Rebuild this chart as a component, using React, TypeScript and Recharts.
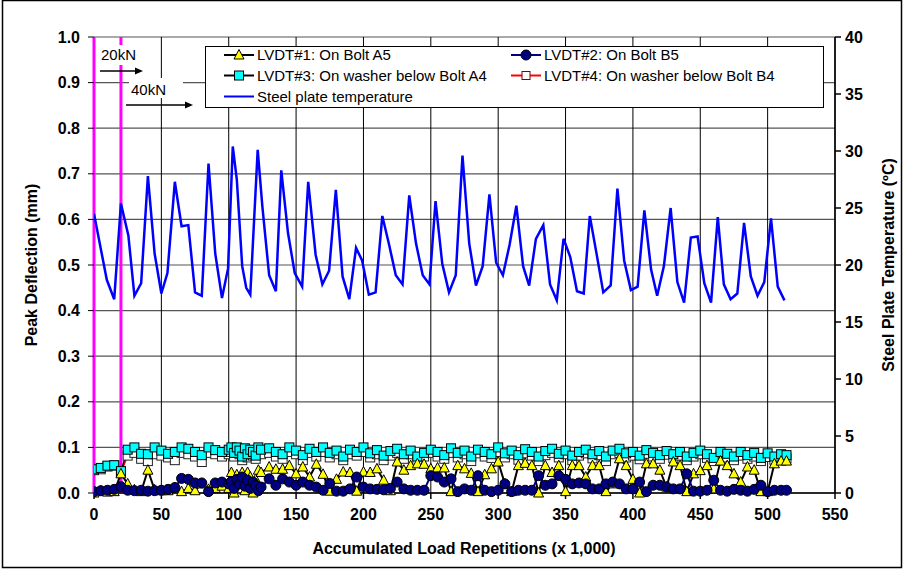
import React from "react";
import { LineChart, Line, XAxis, YAxis, CartesianGrid, ReferenceLine } from "recharts";

// LVDT readings, x in thousands of load repetitions
const lvdtReps = [
  0, 5, 10, 15, 20, 25, 30, 35, 40, 45,
  50, 55, 60, 65, 70, 75, 80, 85, 90, 95,
  100, 102, 104, 106, 108, 110, 112, 114, 116, 118,
  120, 122, 124, 130, 135, 140, 145, 150, 155, 160,
  165, 170, 175, 180, 185, 190, 195, 200, 205, 210,
  215, 220, 225, 230, 235, 240, 245, 250, 255, 260,
  265, 270, 275, 280, 285, 290, 295, 300, 305, 310,
  315, 320, 325, 330, 335, 340, 345, 350, 355, 360,
  365, 370, 375, 380, 385, 390, 395, 400, 405, 410,
  415, 420, 425, 430, 435, 440, 445, 450, 455, 460,
  465, 470, 475, 480, 485, 490, 495, 500, 505, 510,
  514,
];

const lvdt1 = [
  0.0, 0.005, 0.002, 0.003, 0.042, 0.02, 0.007, 0.003, 0.05, 0.007,
  0.005, 0.005, 0.012, 0.003, 0.01, 0.005, 0.02, 0.008, 0.01, 0.015,
  0.01, 0.045, 0.0, 0.04, 0.02, 0.045, 0.005, 0.045, 0.035, 0.0,
  0.03, 0.05, 0.045, 0.057, 0.052, 0.052, 0.06, 0.042, 0.057, 0.035,
  0.063, 0.041, 0.004, 0.03, 0.046, 0.045, 0.004, 0.046, 0.045, 0.053,
  0.028, 0.005, 0.068, 0.05, 0.06, 0.064, 0.063, 0.053, 0.055, 0.055,
  0.003, 0.06, 0.053, 0.043, 0.003, 0.04, 0.053, 0.068, 0.02, 0.003,
  0.06, 0.065, 0.06, 0.0, 0.06, 0.045, 0.06, 0.003, 0.06, 0.06,
  0.035, 0.06, 0.06, 0.003, 0.02, 0.075, 0.06, 0.03, 0.0, 0.064,
  0.064, 0.05, 0.013, 0.068, 0.06, 0.003, 0.042, 0.049, 0.06, 0.009,
  0.07, 0.06, 0.042, 0.024, 0.057, 0.05, 0.003, 0.003, 0.064, 0.07,
  0.07,
];

const lvdt2 = [
  0.003, 0.005, 0.006, 0.008, 0.014, 0.006, 0.005, 0.006, 0.004, 0.005,
  0.006, 0.008, 0.012, 0.032, 0.03, 0.022, 0.022, 0.003, 0.022, 0.024,
  0.02, 0.025, 0.01, 0.03, 0.02, 0.035, 0.015, 0.028, 0.01, 0.024,
  0.017, 0.005, 0.013, 0.031, 0.017, 0.031, 0.024, 0.017, 0.024, 0.017,
  0.013, 0.006, 0.021, 0.004, 0.004, 0.009, 0.035, 0.013, 0.009, 0.008,
  0.007, 0.01, 0.024, 0.009, 0.006, 0.006, 0.006, 0.038, 0.035, 0.024,
  0.031, 0.003, 0.009, 0.006, 0.038, 0.006, 0.003, 0.006, 0.02, 0.003,
  0.006, 0.006, 0.006, 0.038, 0.017, 0.02, 0.038, 0.03, 0.02, 0.022,
  0.02, 0.009, 0.009, 0.02, 0.024, 0.02, 0.009, 0.009, 0.024, 0.003,
  0.017, 0.017, 0.013, 0.009, 0.009, 0.042, 0.004, 0.004, 0.006, 0.028,
  0.006, 0.004, 0.008, 0.006, 0.004, 0.008, 0.017, 0.003, 0.006, 0.006,
  0.006,
];

const lvdt3 = [
  0.052, 0.055, 0.06, 0.061, 0.048, 0.095, 0.1, 0.086, 0.085, 0.1,
  0.093, 0.086, 0.09, 0.1, 0.097, 0.09, 0.083, 0.1, 0.094, 0.09,
  0.095, 0.1, 0.088, 0.1, 0.093, 0.08, 0.098, 0.085, 0.095, 0.09,
  0.082, 0.1, 0.095, 0.098, 0.09, 0.085, 0.1, 0.093, 0.083, 0.097,
  0.09, 0.1, 0.088, 0.093, 0.08, 0.095, 0.09, 0.1, 0.087, 0.094,
  0.082, 0.092, 0.097, 0.085, 0.093, 0.08, 0.088, 0.095, 0.09, 0.083,
  0.098, 0.088, 0.093, 0.08, 0.095, 0.09, 0.085, 0.1, 0.087, 0.093,
  0.083, 0.096, 0.09, 0.08, 0.092, 0.097, 0.086, 0.093, 0.082, 0.09,
  0.095, 0.085, 0.092, 0.08, 0.093, 0.097, 0.087, 0.09, 0.082, 0.094,
  0.088, 0.083, 0.092, 0.085, 0.09, 0.08, 0.088, 0.093, 0.085, 0.077,
  0.09, 0.086, 0.08, 0.09, 0.083, 0.088, 0.077, 0.087, 0.08, 0.085,
  0.083,
];

const lvdt4 = [
  0.05, 0.052, 0.058, 0.06, 0.045, 0.082, 0.088, 0.075, 0.07, 0.085,
  0.082, 0.078, 0.072, 0.088, 0.085, 0.08, 0.068, 0.088, 0.085, 0.08,
  0.085, 0.09, 0.08, 0.088, 0.085, 0.072, 0.088, 0.078, 0.085, 0.082,
  0.075, 0.09, 0.085, 0.088, 0.08, 0.075, 0.09, 0.085, 0.072, 0.088,
  0.08, 0.09, 0.078, 0.085, 0.072, 0.085, 0.082, 0.09, 0.078, 0.085,
  0.072, 0.082, 0.088, 0.075, 0.085, 0.07, 0.08, 0.088, 0.08, 0.075,
  0.088, 0.078, 0.085, 0.07, 0.087, 0.08, 0.077, 0.09, 0.078, 0.085,
  0.073, 0.087, 0.082, 0.07, 0.083, 0.088, 0.078, 0.085, 0.072, 0.082,
  0.087, 0.076, 0.083, 0.07, 0.085, 0.088, 0.078, 0.082, 0.074, 0.086,
  0.08, 0.075, 0.084, 0.077, 0.082, 0.072, 0.08, 0.085, 0.077, 0.07,
  0.082, 0.078, 0.072, 0.082, 0.075, 0.08, 0.07, 0.079, 0.073, 0.078,
  0.076,
];

// steel plate temperature (ºC)
const tempReps = [
  0, 9.5, 15, 20, 25.5, 30, 35, 40, 45, 50,
  54.5, 60, 65, 70, 75, 80, 85, 90, 95, 99.5,
  103, 106, 110, 113, 116, 121.5, 125, 130, 135, 139,
  144, 149, 154.5, 159, 164.5, 169.5, 174.5, 179.5, 184.5, 189.5,
  194.5, 199, 204, 209, 214, 219, 224, 229, 234, 239,
  244, 249, 253.5, 258.5, 263.5, 268.5, 273.5, 278.5, 283.5, 288.5,
  293.5, 298.5, 303.5, 308.5, 313.5, 318.5, 323, 328, 333.5, 338.5,
  343.5, 348.5, 353.5, 358.5, 363.5, 368, 373, 378, 383.5, 388.5,
  393.5, 398.5, 403.5, 408.5, 413.5, 418, 423, 428, 433, 438,
  443, 448, 453, 458, 463, 467.5, 472.5, 477.5, 482.5, 487.5,
  492.5, 497.5, 502.5, 507.5, 512.5,
];

const plateTemp = [
  24.5, 18.7, 17.0, 25.4, 22.6, 17.3, 18.4, 27.8, 21.0, 17.5,
  19.3, 27.3, 23.4, 23.5, 17.6, 17.3, 28.9, 21.0, 17.1, 19.7,
  30.4, 27.5, 19.9, 18.0, 17.4, 30.1, 25.1, 19.1, 17.7, 28.3,
  22.8, 19.3, 18.1, 27.3, 20.9, 18.3, 19.5, 26.6, 19.0, 17.0,
  21.5, 20.4, 17.4, 17.6, 24.3, 21.8, 19.1, 18.3, 26.1, 21.9,
  19.1, 18.3, 25.6, 20.1, 17.6, 19.1, 29.6, 21.9, 18.2, 19.9,
  26.2, 20.2, 19.1, 21.8, 25.2, 19.9, 18.2, 22.3, 23.5, 18.3,
  16.9, 22.3, 20.7, 17.7, 17.5, 24.3, 21.0, 17.6, 18.2, 26.7,
  20.4, 17.8, 18.1, 24.8, 19.6, 17.3, 19.9, 25.0, 18.5, 16.7,
  22.4, 22.5, 18.4, 16.7, 24.2, 18.3, 17.0, 17.5, 23.7, 19.0,
  17.3, 18.5, 24.1, 18.1, 16.9,
];

const xTicks = [0, 50, 100, 150, 200, 250, 300, 350, 400, 450, 500, 550];
const leftTicks = [0, 0.1, 0.2, 0.3, 0.4, 0.5, 0.6, 0.7, 0.8, 0.9, 1.0];
const rightTicks = [0, 5, 10, 15, 20, 25, 30, 35, 40];
const loadSteps = [0, 20]; // 20kN from 0, 40kN from 20k

const lvdtRows = lvdtReps.map((x, i) => ({ x, l1: lvdt1[i], l2: lvdt2[i], l3: lvdt3[i], l4: lvdt4[i] }));
const tempRows = tempReps.map((x, i) => ({ x, t: plateTemp[i] }));

const FONT = "'Liberation Sans', Arial, sans-serif";
const tickStyle = { fontFamily: FONT, fontSize: 16, fontWeight: 700, fill: "#000" };

const triPts = (cx: number, cy: number) => `${cx},${cy - 5.5} ${cx + 5},${cy + 4} ${cx - 5},${cy + 4}`;

function TriDot(p: any) {
  if (p.cx == null || p.cy == null) return <g key={p.index} />;
  return <polygon key={p.index} points={triPts(p.cx, p.cy)} fill="#FFFF00" stroke="#000" strokeWidth={1} />;
}
function CyanDot(p: any) {
  if (p.cx == null || p.cy == null) return <g key={p.index} />;
  return <rect key={p.index} x={p.cx - 4.5} y={p.cy - 4.5} width={9} height={9} fill="#00FFFF" stroke="#000" strokeWidth={1} />;
}
function OpenDot(p: any) {
  if (p.cx == null || p.cy == null) return <g key={p.index} />;
  return <rect key={p.index} x={p.cx - 4.5} y={p.cy - 4.5} width={9} height={9} fill="#fff" stroke="#222" strokeWidth={1} />;
}

function LegendBox() {
  const rows = [55, 75.5, 96.5];
  const item = (x: number, y: number, stroke: string, marker: React.ReactNode, text: string) => (
    <g>
      <line x1={x} y1={y} x2={x + 30} y2={y} stroke={stroke} strokeWidth={2} />
      {marker}
      <text x={x + 33} y={y + 5} fontFamily={FONT} fontSize={15} fill="#000">{text}</text>
    </g>
  );
  const c1 = 224;
  const c2 = 511;
  return (
    <g>
      <rect x={205.5} y={46.5} width={618} height={61} fill="#fff" stroke="#000" strokeWidth={1} />
      {item(c1, rows[0], "#000", <polygon points={triPts(c1 + 15, rows[0])} fill="#FFFF00" stroke="#000" />, "LVDT#1: On Bolt A5")}
      {item(c2, rows[0], "#000080", <circle cx={c2 + 15} cy={rows[0]} r={5} fill="#000080" stroke="#000" />, "LVDT#2: On Bolt B5")}
      {item(c1, rows[1], "#000", <rect x={c1 + 10.5} y={rows[1] - 4.5} width={9} height={9} fill="#00FFFF" stroke="#000" />, "LVDT#3: On washer below Bolt A4")}
      {item(c2, rows[1], "#FF0000", <rect x={c2 + 11} y={rows[1] - 4} width={8} height={8} fill="#fff" stroke="#800000" />, "LVDT#4: On washer below Bolt B4")}
      {item(c1, rows[2], "#0000FF", null, "Steel plate temperature")}
    </g>
  );
}

function Overlay() {
  return (
    <svg width={904} height={569} style={{ position: "absolute", left: 0, top: 0, pointerEvents: "none" }}>
      <rect x={99} y={45} width={40} height={20} fill="#fff" />
      <text x={101} y={60} fontFamily={FONT} fontSize={15} fill="#000">20kN</text>
      <line x1={100} y1={71} x2={136} y2={71} stroke="#000" strokeWidth={1.5} />
      <polygon points="143,71 135,67.5 135,74.5" fill="#000" />
      <rect x={129} y={78} width={54} height={20} fill="#fff" />
      <text x={131} y={95} fontFamily={FONT} fontSize={15} fill="#000">40kN</text>
      <line x1={126} y1={105} x2={186} y2={105} stroke="#000" strokeWidth={1.5} />
      <polygon points="193,105 185,101.5 185,108.5" fill="#000" />
      <LegendBox />
      <text transform="translate(37,265) rotate(-90)" textAnchor="middle" fontFamily={FONT} fontSize={16} fontWeight={700}>
        Peak Deflection (mm)
      </text>
      <text transform="translate(894,265) rotate(-90)" textAnchor="middle" fontFamily={FONT} fontSize={16} fontWeight={700}>
        Steel Plate Temperature (ºC)
      </text>
      <text x={464} y={554} textAnchor="middle" fontFamily={FONT} fontSize={16} fontWeight={700}>
        Accumulated Load Repetitions (x 1,000)
      </text>
      <rect x={2.5} y={0.5} width={899} height={567} fill="none" stroke="#000" strokeWidth={1.5} />
    </svg>
  );
}

export default function App() {
  return (
    <div style={{ position: "absolute", left: 0, top: 0, width: 904, height: 569, background: "#fff" }}>
      <LineChart width={904} height={569} margin={{ top: 37, right: 19, left: 34, bottom: 36 }}>
        <CartesianGrid vertical={false} stroke="#555" strokeWidth={1.2} />
        <CartesianGrid horizontal={false} stroke="#000" strokeWidth={1} />
        <XAxis
          type="number"
          dataKey="x"
          domain={[0, 550]}
          ticks={xTicks}
          allowDataOverflow
          stroke="#000"
          strokeWidth={1.5}
          tickSize={6}
          tickMargin={10}
          height={40}
          tick={tickStyle}
        />
        <YAxis
          type="number"
          domain={[0, 1]}
          ticks={leftTicks}
          tickFormatter={(v: number) => v.toFixed(1)}
          stroke="#000"
          axisLine={false}
          tickSize={6}
          tickMargin={8}
          width={60}
          tick={tickStyle}
        />
        <YAxis
          yAxisId="right"
          orientation="right"
          type="number"
          domain={[0, 40]}
          ticks={rightTicks}
          stroke="#000"
          strokeWidth={1.5}
          tickSize={6}
          tickMargin={4}
          width={50}
          tick={tickStyle}
        />
        {loadSteps.map((s) => (
          <ReferenceLine key={s} x={s} stroke="#FF00FF" strokeWidth={3} />
        ))}
        <Line data={lvdtRows} dataKey="l4" stroke="#FF0000" strokeWidth={1.5} dot={OpenDot} activeDot={false} isAnimationActive={false} />
        <Line data={lvdtRows} dataKey="l3" stroke="#000" strokeWidth={1.5} dot={CyanDot} activeDot={false} isAnimationActive={false} />
        <Line data={lvdtRows} dataKey="l1" stroke="#000" strokeWidth={2} dot={TriDot} activeDot={false} isAnimationActive={false} />
        <Line
          data={lvdtRows}
          dataKey="l2"
          stroke="#000080"
          strokeWidth={2}
          dot={{ r: 5, fill: "#000080", stroke: "#000", strokeWidth: 1 }}
          activeDot={false}
          isAnimationActive={false}
        />
        <Line
          data={tempRows}
          dataKey="t"
          yAxisId="right"
          stroke="#0000FF"
          strokeWidth={2.5}
          dot={false}
          activeDot={false}
          isAnimationActive={false}
        />
      </LineChart>
      <Overlay />
    </div>
  );
}
